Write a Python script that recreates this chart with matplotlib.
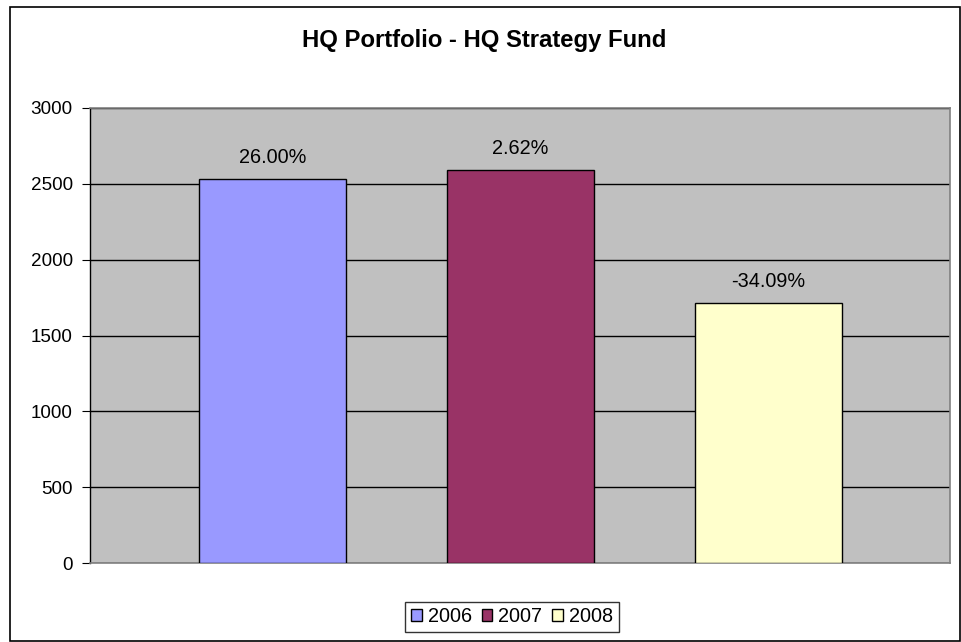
import matplotlib.pyplot as plt
from matplotlib.patches import Rectangle

plt.rcParams['font.family'] = ['Liberation Sans', 'DejaVu Sans']

years = ["2006", "2007", "2008"]
values = [2530, 2593, 1712]
returns = ["26.00%", "2.62%", "-34.09%"]
colors = ["#9999FF", "#993366", "#FFFFCC"]
yticks = [0, 500, 1000, 1500, 2000, 2500, 3000]

W, H = 962, 642
fig = plt.figure(figsize=(W / 100, H / 100), dpi=100)

# outer chart border
fig.patches.append(Rectangle((10 / W, 1 / H), 950 / W, 634 / H, transform=fig.transFigure,
                             fill=False, edgecolor="black", linewidth=1.2))

ax = fig.add_axes([90 / W, (H - 563) / H, 860 / W, 455 / H])
ax.set_facecolor("#C0C0C0")
for s in ax.spines.values():
    s.set_color("#808080")
    s.set_linewidth(1.2)
ax.spines["left"].set_color("black")
ax.spines["left"].set_linewidth(1)

xs = [-1, 0, 1]
bars = ax.bar(xs, values, width=0.594, color=colors, edgecolor="black", linewidth=1, zorder=3)
for x, v, r in zip(xs, values, returns):
    ax.text(x, v + 80, r, ha="center", va="bottom", fontsize=14.3, zorder=4)

ax.set_xlim(-1.739, 1.735)
ax.set_ylim(0, 3000)
ax.set_yticks(yticks)
ax.tick_params(axis="y", labelsize=13.6, length=6, direction="out", pad=6.5)
ax.set_xticks([])
ax.yaxis.grid(True, color="black", linewidth=1)
ax.set_axisbelow(True)

fig.text(484 / W, (H - 40) / H, "HQ Portfolio - HQ Strategy Fund", ha="center", va="center",
         fontsize=17.2, fontweight="bold")

leg = fig.legend(bars, years, loc="center", bbox_to_anchor=(512 / W, (H - 617) / H), ncol=3,
                 fontsize=14.3, frameon=True, fancybox=False, handlelength=0.55, handleheight=0.55,
                 handletextpad=0.3, columnspacing=0.5, borderpad=0.3)
leg.get_frame().set_edgecolor("black")
leg.get_frame().set_linewidth(1)

plt.savefig("out.png", dpi=100)
